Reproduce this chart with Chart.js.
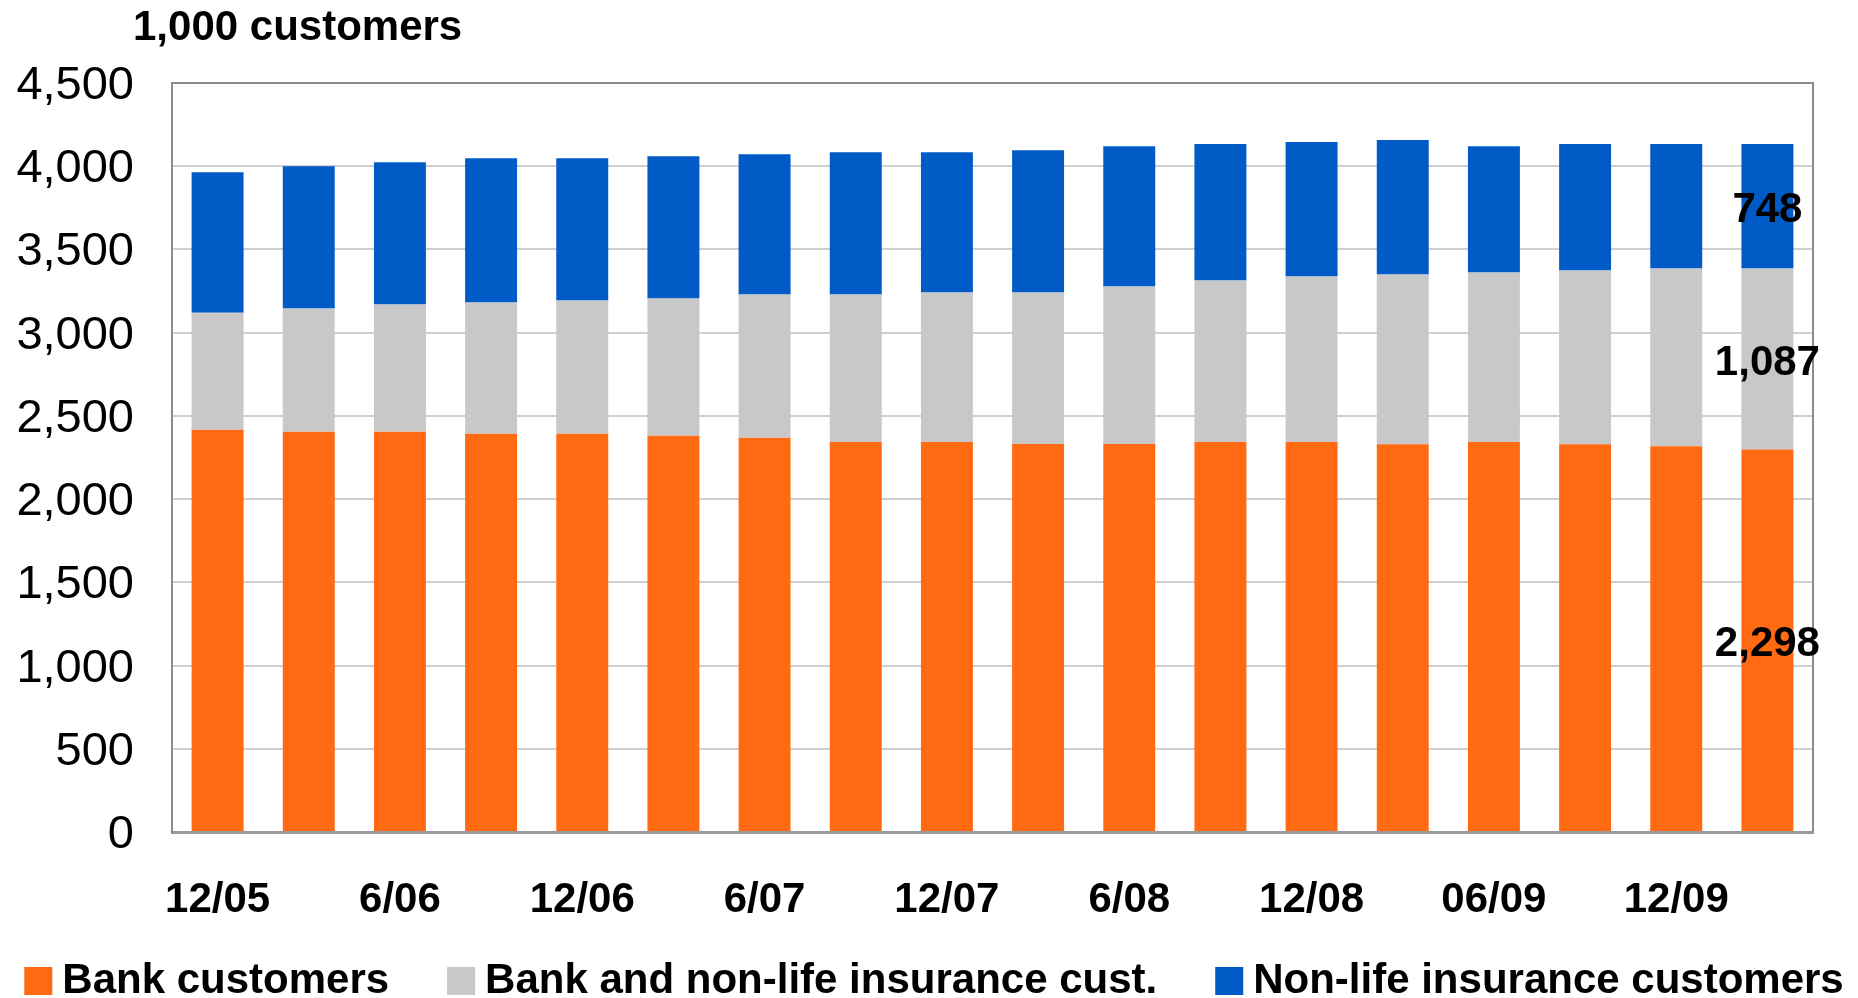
<!DOCTYPE html>
<html>
<head>
<meta charset="utf-8">
<title>Customers</title>
<script src="https://cdn.jsdelivr.net/npm/chart.js@4"></script>
<style>
  html, body { margin: 0; padding: 0; background: #fff; }
  #wrap { width: 1858px; height: 998px; }
</style>
</head>
<body>
<div id="wrap"><canvas id="customers-chart" width="1858" height="998"></canvas></div>
<script>
// quarter-end periods, 12/05 .. 3/10
const quarters = [
  "12/05", "3/06", "6/06", "9/06", "12/06", "3/07", "6/07", "9/07", "12/07",
  "3/08", "6/08", "9/08", "12/08", "3/09", "06/09", "9/09", "12/09", "3/10",
];
// only every other quarter is labelled on the axis
const tickLabels = [
  "12/05", "", "6/06", "", "12/06", "", "6/07", "", "12/07",
  "", "6/08", "", "12/08", "", "06/09", "", "12/09", "",
];

// 1,000 customers
const bankCustomers = [
  2416, 2404, 2404, 2392, 2392, 2380, 2368, 2343, 2343,
  2331, 2331, 2343, 2343, 2330, 2343, 2330, 2317, 2298,
];
const bankAndNonLife = [
  704, 741, 765, 789, 801, 825, 861, 886, 898,
  910, 946, 970, 994, 1019, 1018, 1043, 1069, 1087,
];
const nonLifeCustomers = [
  844, 855, 855, 867, 855, 855, 843, 855, 843,
  855, 843, 820, 808, 808, 759, 760, 748, 748,
];

const yTicks = { min: 0, max: 4500, step: 500 };

Chart.defaults.font.family = '"Liberation Sans", Arial, sans-serif';
Chart.defaults.color = "#000";

// frame round the plot, values on the last bar, title and legend
const extras = {
  id: "extras",
  afterDatasetsDraw(chart) {
    const { ctx, chartArea: a } = chart;
    ctx.save();
    ctx.strokeStyle = "#8c8c8c";
    ctx.lineWidth = 2;
    ctx.beginPath();
    ctx.moveTo(a.left, a.top);
    ctx.lineTo(a.right, a.top);
    ctx.lineTo(a.right, a.bottom);
    ctx.stroke();

    ctx.font = 'bold 42px "Liberation Sans", Arial, sans-serif';
    ctx.fillStyle = "#000";
    ctx.textAlign = "center";
    ctx.textBaseline = "middle";
    chart.data.datasets.forEach((ds, i) => {
      const last = ds.data.length - 1;
      const bar = chart.getDatasetMeta(i).data[last];
      ctx.fillText(ds.data[last].toLocaleString("en-US"), bar.x, (bar.y + bar.base) / 2 + 4);
    });
    ctx.restore();
  },
  afterDraw(chart) {
    const { ctx, width } = chart;
    ctx.save();
    ctx.fillStyle = "#000";
    ctx.textAlign = "left";
    ctx.textBaseline = "alphabetic";
    ctx.font = 'bold 42px "Liberation Sans", Arial, sans-serif';
    ctx.fillText("1,000 customers", 133, 40);

    // legend row
    ctx.font = 'bold 42px "Liberation Sans", Arial, sans-serif';
    ctx.textBaseline = "middle";
    const box = 28, gap = 10, spacing = 58, y = 981;
    const items = chart.data.datasets.map((ds) => ({
      text: ds.label,
      color: ds.backgroundColor,
      w: ctx.measureText(ds.label).width,
    }));
    const total = items.reduce((s, it) => s + box + gap + it.w, 0) + spacing * (items.length - 1);
    let x = (width - total) / 2 + 5;
    items.forEach((it) => {
      ctx.fillStyle = it.color;
      ctx.fillRect(x, y - 14, box, 28);
      ctx.fillStyle = "#000";
      ctx.fillText(it.text, x + box + gap, y);
      x += box + gap + it.w + spacing;
    });
    ctx.restore();
  },
};

const ctx = document.getElementById("customers-chart").getContext("2d");
const customersChart = new Chart(ctx, {
  type: "bar",
  data: {
    labels: quarters,
    datasets: [
      { label: "Bank customers", data: bankCustomers, backgroundColor: "#ff6a12" },
      { label: "Bank and non-life insurance cust.", data: bankAndNonLife, backgroundColor: "#c8c8c8" },
      { label: "Non-life insurance customers", data: nonLifeCustomers, backgroundColor: "#015bc7" },
    ],
  },
  options: {
    responsive: false,
    animation: false,
    datasets: {
      bar: { barPercentage: 0.57, categoryPercentage: 1.0 },
    },
    layout: {
      padding: { top: 83, right: 45, bottom: 77, left: 0 },
    },
    plugins: {
      legend: { display: false },
      tooltip: { enabled: false },
      title: { display: false },
    },
    scales: {
      x: {
        stacked: true,
        grid: { display: false, drawTicks: false },
        border: { display: true, color: "#999999", width: 3 },
        ticks: {
          autoSkip: false,
          maxRotation: 0,
          padding: 43,
          font: { size: 42, weight: "bold" },
          callback: (value, index) => tickLabels[index],
        },
        afterFit: (scale) => {
          scale.height = 89;
        },
      },
      y: {
        stacked: true,
        min: yTicks.min,
        max: yTicks.max,
        grid: { color: "#cfcfcf", lineWidth: 2, drawTicks: false },
        border: { display: true, color: "#8c8c8c", width: 2 },
        ticks: {
          stepSize: yTicks.step,
          padding: 38,
          labelOffset: 3,
          font: { size: 47 },
          callback: (value) => value.toLocaleString("en-US"),
        },
        afterFit: (scale) => {
          scale.width = 172;
        },
      },
    },
  },
  plugins: [extras],
});
</script>
</body>
</html>
